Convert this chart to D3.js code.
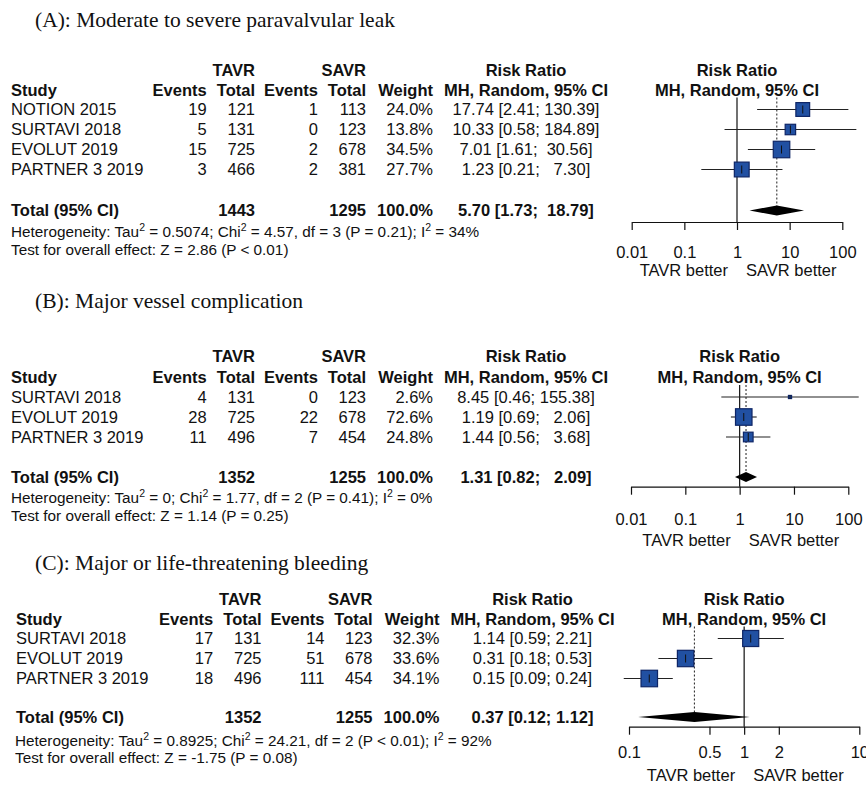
<!DOCTYPE html>
<html>
<head>
<meta charset="utf-8">
<script src="https://cdn.jsdelivr.net/npm/d3@7"></script>
<style>
  body { margin: 0; background: #fff; }
  svg text { font-family: "Liberation Sans", Arial, sans-serif; fill: #111; white-space: pre; }
  .title { font-family: "Liberation Serif", "Times New Roman", serif; font-size: 21.5px; }
  .bold { font-weight: bold; }
</style>
</head>
<body>
<div id="chart"></div>
<script>
const width = 866, height = 785;

// (A) paravalvular leak
const studyA = ["NOTION 2015", "SURTAVI 2018", "EVOLUT 2019", "PARTNER 3 2019"];
const tavrEvA = [19, 5, 15, 3];
const tavrNA = [121, 131, 725, 466];
const savrEvA = [1, 0, 2, 2];
const savrNA = [113, 123, 678, 381];
const weightA = [24.0, 13.8, 34.5, 27.7];
const rrA = [17.74, 10.33, 7.01, 1.23];
const loA = [2.41, 0.58, 1.61, 0.21];
const hiA = [130.39, 184.89, 30.56, 7.30];
const totalsA = [1443, 1295];
const pooledA = [5.70, 1.73, 18.79];
const hetA = ["0.5074", "4.57", "3", "P = 0.21", "34%"];
const testA = "Z = 2.86 (P < 0.01)";

// (B) major vessel complication
const studyB = ["SURTAVI 2018", "EVOLUT 2019", "PARTNER 3 2019"];
const tavrEvB = [4, 28, 11];
const tavrNB = [131, 725, 496];
const savrEvB = [0, 22, 7];
const savrNB = [123, 678, 454];
const weightB = [2.6, 72.6, 24.8];
const rrB = [8.45, 1.19, 1.44];
const loB = [0.46, 0.69, 0.56];
const hiB = [155.38, 2.06, 3.68];
const totalsB = [1352, 1255];
const pooledB = [1.31, 0.82, 2.09];
const hetB = ["0", "1.77", "2", "P = 0.41", "0%"];
const testB = "Z = 1.14 (P = 0.25)";

// (C) major or life-threatening bleeding
const studyC = ["SURTAVI 2018", "EVOLUT 2019", "PARTNER 3 2019"];
const tavrEvC = [17, 17, 18];
const tavrNC = [131, 725, 496];
const savrEvC = [14, 51, 111];
const savrNC = [123, 678, 454];
const weightC = [32.3, 33.6, 34.1];
const rrC = [1.14, 0.31, 0.15];
const loC = [0.59, 0.18, 0.09];
const hiC = [2.21, 0.53, 0.24];
const totalsC = [1352, 1255];
const pooledC = [0.37, 0.12, 1.12];
const hetC = ["0.8925", "24.21", "2", "P < 0.01", "92%"];
const testC = "Z = -1.75 (P = 0.08)";

const ticksAB = [0.01, 0.1, 1, 10, 100];
const ticksC = [0.1, 0.5, 1, 2, 10];

const panels = [
  {title: "(A): Moderate to severe paravalvular leak", study: studyA, tavrEv: tavrEvA, tavrN: tavrNA,
   savrEv: savrEvA, savrN: savrNA, weight: weightA, rr: rrA, lo: loA, hi: hiA, totals: totalsA,
   pooled: pooledA, het: hetA, test: testA, ticks: ticksAB,
   titleY: 27, hdr1: 70, hdr2: 90.5, row0: 109.5, totalY: 210.5, hetY: 231, testY: 249,
   dx: 0, range: [631.7, 842.3], axisY: 222, pad: 16, betterY: 270},
  {title: "(B): Major vessel complication", study: studyB, tavrEv: tavrEvB, tavrN: tavrNB,
   savrEv: savrEvB, savrN: savrNB, weight: weightB, rr: rrB, lo: loB, hi: hiB, totals: totalsB,
   pooled: pooledB, het: hetB, test: testB, ticks: ticksAB,
   titleY: 308, hdr1: 356, hdr2: 377, row0: 397, totalY: 477, hetY: 497, testY: 515,
   dx: 0, range: [631, 848.3], axisY: 486.7, pad: 19, betterY: 540},
  {title: "(C): Major or life-threatening bleeding", study: studyC, tavrEv: tavrEvC, tavrN: tavrNC,
   savrEv: savrEvC, savrN: savrNC, weight: weightC, rr: rrC, lo: loC, hi: hiC, totals: totalsC,
   pooled: pooledC, het: hetC, test: testC, ticks: ticksC,
   titleY: 570, hdr1: 599, hdr2: 619, row0: 638.5, totalY: 717, hetY: 740, testY: 757,
   dx: 6.5, range: [629, 859.3], axisY: 726.7, pad: 12, betterY: 775}
];

// column anchors of the table (right edges, rr column is centred)
const col = {study: 11, tavrEv: 206.7, tavrN: 255, savrEv: 318, savrN: 366, weight: 433, rr: 526};

const svg = d3.select("#chart").append("svg")
  .attr("width", width)
  .attr("height", height);

function ciText(rr, lo, hi, w) {
  const h = hi.toFixed(2);
  return rr.toFixed(2) + " [" + lo.toFixed(2) + "; " + " ".repeat(Math.max(0, w - h.length)) + h + "]";
}

function drawPanel(p) {
  const g = svg.append("g");
  const fs = "16.5px";
  const dx = p.dx;
  const mid = c => c + 5.8; // centre line to baseline
  const sx = col.study + dx - (dx ? 1.5 : 0);

  g.append("text").attr("class", "title")
    .attr("x", 35).attr("y", p.titleY).text(p.title);

  // header
  const h1 = g.append("g").style("font-size", fs);
  h1.append("text").attr("class", "bold").attr("x", col.tavrN + dx).attr("y", mid(p.hdr1))
    .attr("text-anchor", "end").text("TAVR");
  h1.append("text").attr("class", "bold").attr("x", col.savrN + dx).attr("y", mid(p.hdr1))
    .attr("text-anchor", "end").text("SAVR");
  h1.append("text").attr("class", "bold").attr("x", col.rr + dx).attr("y", mid(p.hdr1))
    .attr("text-anchor", "middle").text("Risk Ratio");
  const hdr = [["Study", sx, "start"], ["Events", col.tavrEv + dx, "end"], ["Total", col.tavrN + dx, "end"],
               ["Events", col.savrEv + dx, "end"], ["Total", col.savrN + dx, "end"], ["Weight", col.weight + dx, "end"],
               ["MH, Random, 95% CI", col.rr + dx, "middle"]];
  hdr.forEach(h => {
    h1.append("text").attr("class", "bold")
      .attr("x", h[1]).attr("y", mid(p.hdr2))
      .attr("text-anchor", h[2]).text(h[0]);
  });

  const hiW = d3.max(p.hi.concat([p.pooled[2]]), v => v.toFixed(2).length);
  const rowY = i => p.row0 + i * 20;

  p.study.forEach((s, i) => {
    const r = g.append("g").style("font-size", fs);
    const y = mid(rowY(i));
    r.append("text").attr("x", sx).attr("y", y).text(s);
    r.append("text").attr("x", col.tavrEv + dx).attr("y", y).attr("text-anchor", "end").text(p.tavrEv[i]);
    r.append("text").attr("x", col.tavrN + dx).attr("y", y).attr("text-anchor", "end").text(p.tavrN[i]);
    r.append("text").attr("x", col.savrEv + dx).attr("y", y).attr("text-anchor", "end").text(p.savrEv[i]);
    r.append("text").attr("x", col.savrN + dx).attr("y", y).attr("text-anchor", "end").text(p.savrN[i]);
    r.append("text").attr("x", col.weight + dx).attr("y", y).attr("text-anchor", "end").text(p.weight[i].toFixed(1) + "%");
    r.append("text").attr("x", col.rr + dx).attr("y", y).attr("text-anchor", "middle")
      .text(ciText(p.rr[i], p.lo[i], p.hi[i], hiW));
  });

  // total row
  const t = g.append("g").style("font-size", fs);
  const ty = mid(p.totalY);
  t.append("text").attr("class", "bold").attr("x", sx).attr("y", ty).text("Total (95% CI)");
  t.append("text").attr("class", "bold").attr("x", col.tavrN + dx).attr("y", ty).attr("text-anchor", "end").text(p.totals[0]);
  t.append("text").attr("class", "bold").attr("x", col.savrN + dx).attr("y", ty).attr("text-anchor", "end").text(p.totals[1]);
  t.append("text").attr("class", "bold").attr("x", col.weight + dx).attr("y", ty).attr("text-anchor", "end").text("100.0%");
  t.append("text").attr("class", "bold").attr("x", col.rr + dx).attr("y", ty).attr("text-anchor", "middle")
    .text(ciText(p.pooled[0], p.pooled[1], p.pooled[2], hiW));

  // heterogeneity + overall effect
  const hx = col.study + (dx ? 4 : 0);
  const nf = "15.3px";
  const het = g.append("text").attr("x", hx).attr("y", mid(p.hetY)).style("font-size", nf);
  het.append("tspan").text("Heterogeneity: Tau");
  het.append("tspan").attr("dy", -6).style("font-size", "10.5px").text("2");
  het.append("tspan").attr("dy", 6).text(" = " + p.het[0] + "; Chi");
  het.append("tspan").attr("dy", -6).style("font-size", "10.5px").text("2");
  het.append("tspan").attr("dy", 6).text(" = " + p.het[1] + ", df = " + p.het[2] + " (" + p.het[3] + "); I");
  het.append("tspan").attr("dy", -6).style("font-size", "10.5px").text("2");
  het.append("tspan").attr("dy", 6).text(" = " + p.het[4]);
  g.append("text").attr("x", hx).attr("y", mid(p.testY)).style("font-size", nf)
    .text("Test for overall effect: " + p.test);

  // forest plot
  const x = d3.scaleLog().domain([p.ticks[0], p.ticks[p.ticks.length - 1]]).range(p.range);
  const top = p.row0 - 12;
  const x1 = x(1);

  const fh = g.append("g").style("font-size", fs);
  fh.append("text").attr("class", "bold").attr("x", x1).attr("y", mid(p.hdr1)).attr("text-anchor", "middle").text("Risk Ratio");
  fh.append("text").attr("class", "bold").attr("x", x1).attr("y", mid(p.hdr2)).attr("text-anchor", "middle").text("MH, Random, 95% CI");

  g.append("line").attr("x1", x1).attr("x2", x1).attr("y1", top).attr("y2", p.axisY)
    .attr("stroke", "#111").attr("stroke-width", 1.2);
  g.append("line").attr("x1", x(p.pooled[0])).attr("x2", x(p.pooled[0]))
    .attr("y1", top).attr("y2", p.totalY)
    .attr("stroke", "#333").attr("stroke-width", 1.1).attr("stroke-dasharray", "2,2");

  const wmax = d3.max(p.weight);
  p.study.forEach((s, i) => {
    const cy = rowY(i);
    const side = 16.5 * Math.sqrt(p.weight[i] / wmax);
    g.append("line").attr("x1", x(p.lo[i])).attr("x2", x(p.hi[i])).attr("y1", cy).attr("y2", cy)
      .attr("stroke", "#222").attr("stroke-width", 1.1);
    g.append("rect").attr("x", x(p.rr[i]) - side / 2).attr("y", cy - side / 2)
      .attr("width", side).attr("height", side)
      .attr("fill", "#2150a2").attr("stroke", "#0e2566").attr("stroke-width", 1.2);
    const tk = Math.min(4, side / 2);
    g.append("line").attr("x1", x(p.rr[i])).attr("x2", x(p.rr[i])).attr("y1", cy - tk).attr("y2", cy + tk)
      .attr("stroke", "#111").attr("stroke-width", 1);
  });

  const dy = p.totalY;
  g.append("path")
    .attr("d", `M${x(p.pooled[1])},${dy} L${x(p.pooled[0])},${dy - 5} L${x(p.pooled[2])},${dy} L${x(p.pooled[0])},${dy + 5} Z`)
    .attr("fill", "#000");

  const axis = g.append("g").attr("transform", `translate(0,${p.axisY})`)
    .call(d3.axisBottom(x).tickValues(p.ticks).tickSize(8).tickSizeOuter(0).tickPadding(p.pad)
      .tickFormat(d => String(d)));
  axis.select(".domain").attr("stroke", "#111").attr("stroke-width", 1.2);
  axis.selectAll(".tick line").attr("stroke", "#111").attr("stroke-width", 1.2);
  axis.selectAll("text").attr("fill", "#111").style("font-size", "16.5px")
    .style("font-family", "'Liberation Sans', Arial, sans-serif");

  g.append("text").attr("x", x1 - 9).attr("y", p.betterY + 5.8).attr("text-anchor", "end")
    .style("font-size", "16.5px").text("TAVR better");
  g.append("text").attr("x", x1 + 9).attr("y", p.betterY + 5.8).attr("text-anchor", "start")
    .style("font-size", "16.5px").text("SAVR better");
}

panels.forEach(drawPanel);
</script>
</body>
</html>
